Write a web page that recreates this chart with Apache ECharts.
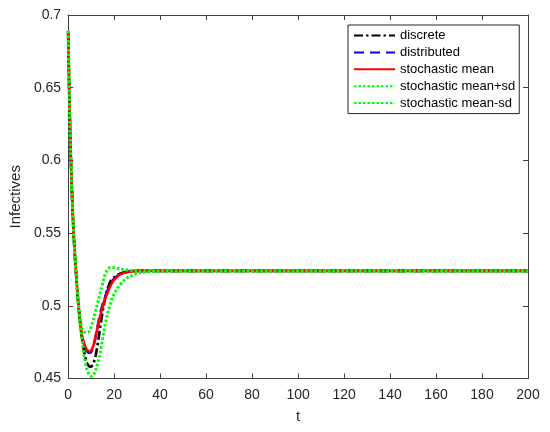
<!DOCTYPE html>
<html>
<head>
<meta charset="utf-8">
<script src="https://cdn.jsdelivr.net/npm/echarts@6/dist/echarts.min.js"></script>
<style>html,body{margin:0;padding:0;background:#fff}#c{width:550px;height:432px}</style>
</head>
<body>
<div id="c"></div>
<script>
const tValues = [0,0.5,1,1.5,2,2.5,3,3.5,4,4.5,5,6,7,8,9,10,11,12,13,14,15,16,17,18,19,20,22,24,26,28,30,35,40,50,60,80,100,120,140,160,180,200];
const discrete = [0.689,0.645,0.610,0.585,0.563,0.546,0.533,0.521,0.510,0.500,0.491,0.478,0.468,0.461,0.4585,0.458,0.460,0.466,0.475,0.486,0.496,0.505,0.511,0.5155,0.5185,0.5195,0.5218,0.523,0.5236,0.524,0.524,0.524,0.524,0.524,0.524,0.524,0.524,0.524,0.524,0.524,0.524,0.524];
const distributed = [0.689,0.645,0.610,0.585,0.563,0.546,0.533,0.521,0.510,0.500,0.4918,0.479,0.473,0.469,0.4675,0.468,0.4715,0.479,0.4875,0.495,0.501,0.506,0.510,0.514,0.5165,0.5187,0.5213,0.5228,0.5235,0.524,0.524,0.524,0.524,0.524,0.524,0.524,0.524,0.524,0.524,0.524,0.524,0.524];
const stochMean = [0.689,0.645,0.610,0.585,0.563,0.546,0.533,0.521,0.510,0.500,0.492,0.479,0.4735,0.470,0.4685,0.469,0.4725,0.4795,0.4865,0.4935,0.4995,0.5045,0.5085,0.5125,0.5155,0.518,0.521,0.5225,0.5232,0.5237,0.524,0.524,0.524,0.524,0.524,0.524,0.524,0.524,0.524,0.524,0.524,0.524];
const stochPlusSd = [0.689,0.645,0.610,0.585,0.563,0.546,0.533,0.521,0.510,0.501,0.493,0.4845,0.482,0.4815,0.482,0.4855,0.4905,0.497,0.503,0.5095,0.5155,0.5215,0.5248,0.5262,0.5265,0.5262,0.5255,0.525,0.5246,0.5243,0.524,0.524,0.524,0.524,0.524,0.524,0.524,0.524,0.524,0.524,0.524,0.524];
const stochMinusSd = [0.689,0.645,0.610,0.585,0.563,0.546,0.533,0.521,0.510,0.500,0.489,0.477,0.465,0.457,0.453,0.4515,0.452,0.456,0.461,0.468,0.4775,0.4865,0.4935,0.4995,0.5045,0.5085,0.5135,0.517,0.5195,0.521,0.5225,0.5235,0.524,0.524,0.524,0.524,0.524,0.524,0.524,0.524,0.524,0.524];
const seriesNames = ['discrete','distributed','stochastic mean','stochastic mean+sd','stochastic mean-sd'];
const xTicks = {min:0, max:200, interval:20};
const yTicks = {min:0.45, max:0.7, interval:0.05};

const pairs = arr => tValues.map((t,i)=>[t,arr[i]]);
const fmtY = v => String(parseFloat(v.toFixed(2)));
const axisColor = '#404040';
const labelColor = '#262626';
const font = 'Liberation Sans, Arial, sans-serif';

const baseAxis = {
  axisLine:{show:true, onZero:false, lineStyle:{color:axisColor, width:1}},
  axisTick:{show:true, inside:true, length:5, lineStyle:{color:axisColor}},
  splitLine:{show:false}
};

const chart = echarts.init(document.getElementById('c'), null, {renderer:'canvas'});
const styles = [
  {color:'#000000', width:2.6, type:[9,3,2.5,3]},
  {color:'#0000ff', width:2.6, type:[10,6]},
  {color:'#ff0000', width:2.6, type:'solid'},
  {color:'#00ff00', width:3, type:[2.5,2]},
  {color:'#00ff00', width:3, type:[2.5,2]}
];
const dataSets = [discrete, distributed, stochMean, stochPlusSd, stochMinusSd];

chart.setOption({
  animation:false,
  backgroundColor:'#fff',
  grid:{left:63, right:22, top:15, bottom:53.5},
  legend:{
    orient:'vertical', left:348, top:25, align:'left',
    itemWidth:41, itemHeight:14, itemGap:3.9,
    padding:[4,4,4,5],
    borderColor:'#262626', borderWidth:1, backgroundColor:'#fff',
    itemStyle:{opacity:0},
    textStyle:{fontFamily:font, fontSize:13, color:'#000'},
    data:seriesNames
  },
  xAxis:[
    Object.assign({type:'value', position:'bottom', min:xTicks.min, max:xTicks.max, interval:xTicks.interval,
      name:'t', nameLocation:'middle', nameGap:31,
      nameTextStyle:{fontFamily:font, fontSize:15, color:labelColor},
      axisLabel:{fontFamily:font, fontSize:14, color:labelColor, margin:10}}, baseAxis),
    Object.assign({type:'value', position:'top', min:xTicks.min, max:xTicks.max, interval:xTicks.interval,
      axisLabel:{show:false}}, baseAxis)
  ],
  yAxis:[
    Object.assign({type:'value', position:'left', min:yTicks.min, max:yTicks.max, interval:yTicks.interval,
      name:'Infectives', nameLocation:'middle', nameGap:42,
      nameTextStyle:{fontFamily:font, fontSize:15, color:labelColor},
      axisLabel:{fontFamily:font, fontSize:14, color:labelColor, margin:7, formatter:fmtY}}, baseAxis),
    Object.assign({type:'value', position:'right', min:yTicks.min, max:yTicks.max, interval:yTicks.interval,
      axisLabel:{show:false}}, baseAxis)
  ],
  series: seriesNames.map((n,i)=>({
    name:n, type:'line', data:pairs(dataSets[i]), symbol:'none', showSymbol:false,
    xAxisIndex:0, yAxisIndex:0,
    lineStyle:{color:styles[i].color, width:styles[i].width, type:styles[i].type},
    itemStyle:{color:styles[i].color},
    z:2+i
  }))
});
</script>
</body>
</html>
